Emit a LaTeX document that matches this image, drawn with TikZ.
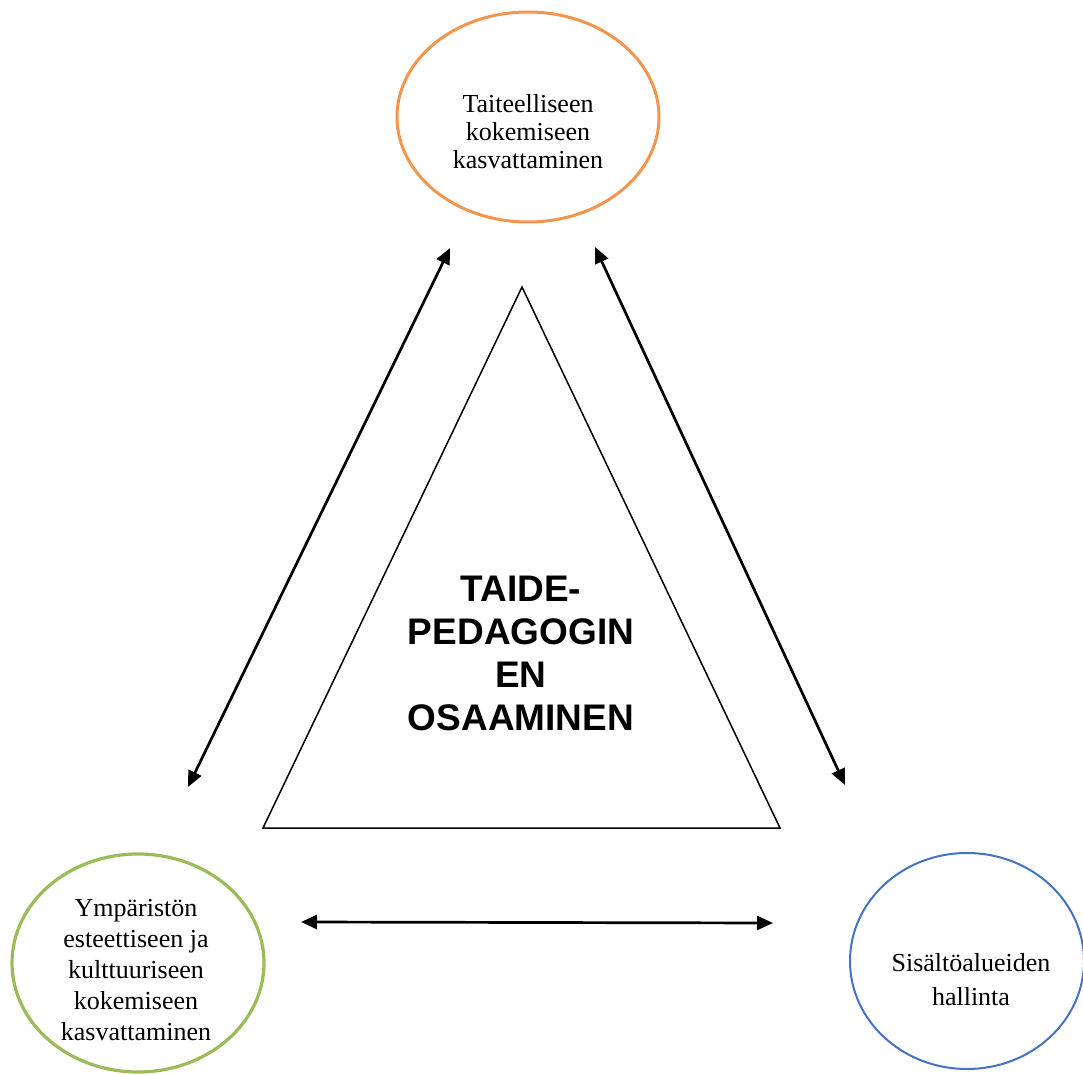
\documentclass[tikz,border=0pt]{standalone}
\usepackage{fontspec}
\setmainfont{Liberation Serif}
\newfontfamily\arialfont{Liberation Sans}
\usetikzlibrary{arrows.meta,shapes.geometric,positioning}

\definecolor{ringorange}{HTML}{F4954E}
\definecolor{ringgreen}{HTML}{9BBB59}
\definecolor{ringblue}{HTML}{4472C4}

\tikzset{
  ring/.style={draw=#1, ellipse, inner sep=0pt},
  ringtxt/.style={align=center, inner sep=0pt, font=\fontsize{13}{#1}\selectfont},
  twoway/.style={{Triangle[length=8pt,width=7pt]}-{Triangle[length=8pt,width=7pt]}, line width=1.35pt}
}

\begin{document}
\begin{tikzpicture}[x=0.5pt,y=-0.5pt]
      \useasboundingbox (0,0) rectangle (1083,1075);
      % the three goals
      \node[ring=ringorange, line width=1.5pt, minimum width=131pt, minimum height=105pt] (art) at (528,117) {};
      \node[ring=ringgreen, line width=1.6pt, minimum width=126pt, minimum height=109pt] (env) at (138,963) {};
      \node[ring=ringblue, line width=1pt, minimum width=117pt, minimum height=108pt] (cont) at (967,961) {};
      \node[ringtxt=14pt] (arttxt) at (528,132) {Taiteelliseen\\kokemiseen\\kasvattaminen};
      \node[ringtxt=15.5pt] (envtxt) at (136,970) {Ympäristön\\esteettiseen ja\\kulttuuriseen\\kokemiseen\\kasvattaminen};
      \node[ringtxt=17pt] (conttxt) at (971,980) {Sisältöalueiden\\hallinta};
      % triangle in the middle
      \coordinate (apex) at (522,287);
      \coordinate (bl) at (263,828);
      \coordinate (br) at (780,828);
      \draw[line width=0.75pt] (apex) -- (bl) -- (br) -- cycle;
      \node[align=center, inner sep=0pt, font=\arialfont\bfseries\fontsize{18.5}{21.5}\selectfont] (core) at (521,653)
        {TAIDE-\\PEDAGOGIN\\EN\\OSAAMINEN};
      % arrows between the goals
      \coordinate (a1) at (450,248);
      \coordinate (a2) at (188,787);
      \coordinate (b1) at (595,247);
      \coordinate (b2) at (845,785);
      \coordinate (c1) at (301,922);
      \coordinate (c2) at (773,923);
      \draw[twoway] (a1) -- (a2);
      \draw[twoway] (b1) -- (b2);
      \draw[twoway] (c1) -- (c2);
    \end{tikzpicture}
\end{document}
